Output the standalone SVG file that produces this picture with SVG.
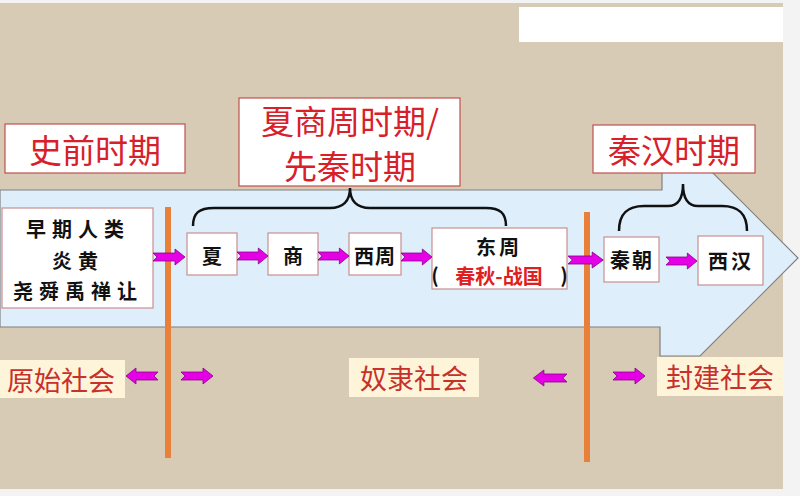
<svg xmlns="http://www.w3.org/2000/svg" width="800" height="496" viewBox="0 0 800 496">
<style>
.title{fill:#ffffff;stroke:#c0504d;stroke-width:1.2}
.ttxt{font-family:"Noto Sans CJK SC","Noto Sans",sans-serif;font-size:33px;fill:#d8202a;text-anchor:middle;dominant-baseline:central}
.node{fill:#ffffff;stroke:#c89090;stroke-width:1.2}
.ntxt{font-family:"Noto Sans CJK SC","Noto Sans",sans-serif;font-size:20px;font-weight:bold;fill:#111111;text-anchor:middle;dominant-baseline:central}
.red{fill:#e02020}
.soc{fill:#fdf4da}
.stxt{font-family:"Noto Sans CJK SC","Noto Sans",sans-serif;font-size:27px;fill:#c8302a;text-anchor:middle;dominant-baseline:central}
.div{stroke:#e8803a;stroke-width:6}
.brace{fill:none;stroke:#111111;stroke-width:2.5}
.pa{fill:#e600e6;stroke:#8a008a;stroke-width:0.8}
</style>
<defs>
<path id="ar" d="M0,-4 L22,-4 L22,-8 L32,0 L22,8 L22,4 L0,4 L4,0 Z"/>
</defs>
<rect x="0" y="0" width="800" height="496" fill="#f3f3f3"/>
<rect x="0" y="3" width="783" height="486" fill="#d7cbb5"/>
<rect x="519" y="7" width="264" height="35" fill="#ffffff"/>
<g id="timeline-arrow">
<path d="M0,190 L662,190 L662,160 L700,160 L798,258 L700,356 L660,356 L660,327 L0,327 Z" fill="#deeefa" stroke="#808080" stroke-width="1.2"/>
</g>
<g id="dividers">
<line class="div" x1="168" y1="207" x2="168" y2="458"/>
<line class="div" x1="587" y1="212" x2="587" y2="462"/>
</g>
<g id="title-prehistory">
<rect class="title" x="5" y="124" width="180" height="49"/>
<text class="ttxt" x="95" y="149">史前时期</text>
</g>
<g id="title-xsz">
<rect class="title" x="239" y="98" width="221" height="88"/>
<text class="ttxt" x="350" y="120" font-size="31">夏商周时期/</text>
<text class="ttxt" x="350" y="165" font-size="31">先秦时期</text>
</g>
<g id="title-qinhan">
<rect class="title" x="593" y="125" width="162" height="48"/>
<text class="ttxt" x="674" y="149">秦汉时期</text>
</g>
<g id="braces">
<path class="brace" d="M193,226 C193,213 199,208 214,208 L330,208 C343,208 350,201 350,188 C350,201 357,208 370,208 L486,208 C500,208 506,213 506,226"/>
<path class="brace" d="M619,231 C619,214 627,206 644,206 L668,206 C678,206 683,199 683,184 C683,199 688,206 698,206 L722,206 C739,206 747,214 747,231"/>
</g>
<g id="node-early">
<rect class="node" x="2" y="208" width="151" height="100"/>
<text class="ntxt" x="78" y="228" letter-spacing="6">早期人类</text>
<text class="ntxt" x="78" y="260" letter-spacing="6">炎黄</text>
<text class="ntxt" x="78" y="290" letter-spacing="6">尧舜禹禅让</text>
</g>
<g id="node-xia">
<rect class="node" x="187" y="233" width="50" height="42"/>
<text class="ntxt" x="212" y="255">夏</text>
</g>
<g id="node-shang">
<rect class="node" x="268" y="233" width="50" height="42"/>
<text class="ntxt" x="293" y="255">商</text>
</g>
<g id="node-xizhou">
<rect class="node" x="349" y="233" width="52" height="42"/>
<text class="ntxt" x="375" y="255" letter-spacing="1">西周</text>
</g>
<g id="node-dongzhou">
<rect class="node" x="432" y="228" width="135" height="61"/>
<text class="ntxt" x="499" y="246" letter-spacing="3">东周</text>
<text class="ntxt" x="435" y="274" text-anchor="start" font-weight="normal" font-size="24">(</text>
<text class="ntxt red" x="499" y="275" font-size="21">春秋-战国</text>
<text class="ntxt" x="564" y="274" text-anchor="end" font-weight="normal" font-size="24">)</text>
</g>
<g id="node-qin">
<rect class="node" x="604" y="237" width="55" height="45"/>
<text class="ntxt" x="632" y="259" letter-spacing="2">秦朝</text>
</g>
<g id="node-xihan">
<rect class="node" x="698" y="236" width="65" height="49"/>
<text class="ntxt" x="731" y="260" letter-spacing="3">西汉</text>
</g>
<g id="connectors">
<use href="#ar" class="pa" transform="translate(153,257)"/>
<use href="#ar" class="pa" transform="translate(237,256) scale(0.97,1)"/>
<use href="#ar" class="pa" transform="translate(318,256) scale(0.97,1)"/>
<use href="#ar" class="pa" transform="translate(401,257) scale(0.97,1)"/>
<use href="#ar" class="pa" transform="translate(568,260) scale(1.1,1)"/>
<use href="#ar" class="pa" transform="translate(666,261) scale(0.97,1)"/>
<use href="#ar" class="pa" transform="translate(158,376) scale(-1,1)"/>
<use href="#ar" class="pa" transform="translate(181,376)"/>
<use href="#ar" class="pa" transform="translate(567,378) scale(-1.05,1)"/>
<use href="#ar" class="pa" transform="translate(613,376)"/>
</g>
<g id="soc-primitive">
<rect class="soc" x="0" y="360" width="125" height="38"/>
<text class="stxt" x="61" y="379">原始社会</text>
</g>
<g id="soc-slave">
<rect class="soc" x="349" y="358" width="130" height="39"/>
<text class="stxt" x="414" y="377">奴隶社会</text>
</g>
<g id="soc-feudal">
<rect class="soc" x="657" y="357" width="126" height="39"/>
<text class="stxt" x="720" y="376">封建社会</text>
</g>
</svg>
